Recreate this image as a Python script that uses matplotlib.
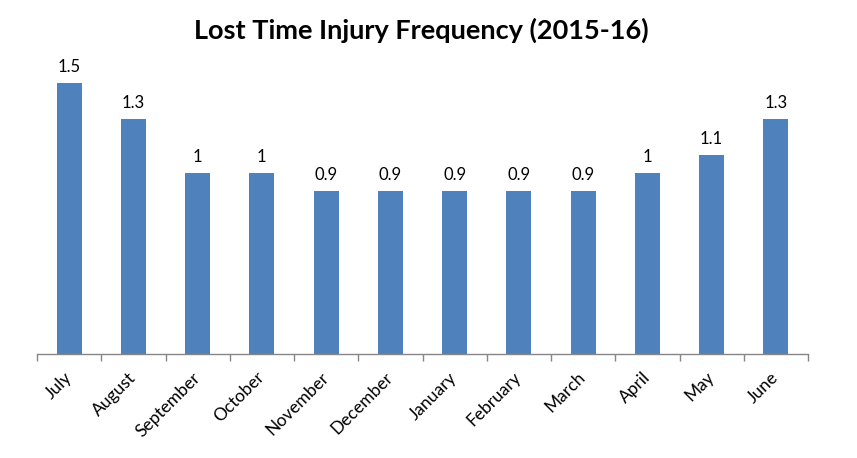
import matplotlib.pyplot as plt
import numpy as np

months = ['July', 'August', 'September', 'October', 'November', 'December',
          'January', 'February', 'March', 'April', 'May', 'June']
ltif = [1.5, 1.3, 1, 1, 0.9, 0.9, 0.9, 0.9, 0.9, 1, 1.1, 1.3]
value_labels = ['1.5', '1.3', '1', '1', '0.9', '0.9', '0.9', '0.9', '0.9', '1', '1.1', '1.3']

plt.rcParams['font.family'] = ['Lato', 'DejaVu Sans']

fig = plt.figure(figsize=(8.57, 4.58), dpi=100)
# axes placed in pixel terms: left 37, right 808, bottom at y=354, top at y=50
ax = fig.add_axes([37 / 857, (458 - 354) / 458, (808 - 37) / 857, (354 - 50) / 458])

x = np.arange(len(months))
ax.bar(x, ltif, width=0.39, color='#4F81BD')
ax.set_xlim(-0.5, len(months) - 0.5)
ax.set_ylim(0, 304 / 180.7)

for xi, v, lab in zip(x, ltif, value_labels):
    ax.annotate(lab, (xi, v), xytext=(0, 6), textcoords='offset points',
                ha='center', va='bottom', fontsize=12, color='#000000')

for side in ['top', 'right', 'left']:
    ax.spines[side].set_visible(False)
ax.spines['bottom'].set_color('#868686')
ax.spines['bottom'].set_linewidth(1)
ax.set_yticks([])

ax.set_xticks(x)
ax.set_xticklabels(months, rotation=45, ha='right', va='center',
                   rotation_mode='anchor', fontsize=12.5)
ax.tick_params(axis='x', which='major', length=0, pad=15)
ax.set_xticks(np.arange(-0.5, len(months)), minor=True)
ax.tick_params(axis='x', which='minor', length=5, color='#868686', width=1)

fig.text(0.492, 1 - 30 / 458, 'Lost Time Injury Frequency (2015-16)',
         ha='center', va='center', fontsize=19.5, fontweight='bold')

fig.savefig('out.png', dpi=100, facecolor='white')
